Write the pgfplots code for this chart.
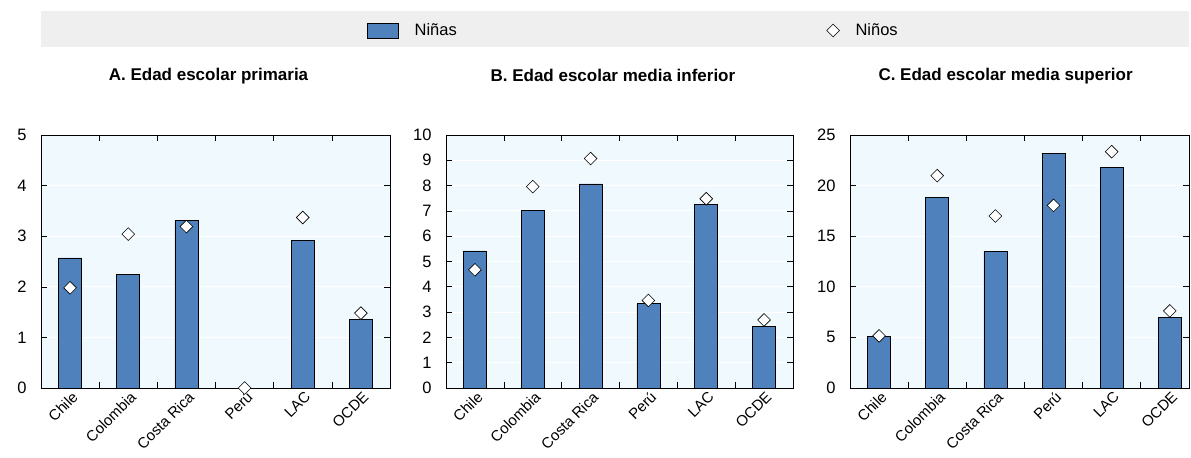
\documentclass[border=0pt]{standalone}
\usepackage{pgfplots}
\pgfplotsset{compat=1.18}
\usepackage{fontspec}
\setmainfont{Liberation Sans}
\newcommand{\lblfont}{\fontsize{16.5bp}{19bp}\selectfont}
\newcommand{\xlblfont}{\fontsize{15bp}{18bp}\selectfont}
\newcommand{\ttlfont}{\bfseries\fontsize{17bp}{20bp}\selectfont}
\definecolor{barblue}{HTML}{4F81BD}
\definecolor{panelbg}{HTML}{F0FAFE}
\definecolor{legbg}{HTML}{EFEFEF}

\pgfplotsset{
  panel/.style={
    scale only axis,
    anchor=south west,
    height=253bp,
    axis background/.style={fill=panelbg},
    axis line style={black, line width=0.8bp},
    ymin=0,
    xmin=-0.5,
    xtick={0,1,2,3,4,5},
    xticklabels={Chile,Colombia,Costa Rica,Perú,LAC,OCDE},
    major x tick style={draw=none},
    minor xtick={0.5,1.5,2.5,3.5,4.5},
    minor tick length=6bp,
    major tick length=6bp,
    tick align=inside,
    minor x tick style={black, line width=0.6bp},
    ytick style={black, line width=0.6bp},
    ymajorgrids,
    major grid style={white, line width=0.8bp},
    yticklabel style={font=\lblfont, xshift=-11bp},
    /pgf/number format/assume math mode=true,
    xticklabel style={font=\xlblfont, rotate=45, anchor=north east, inner sep=1bp, yshift=-1.5bp},
    title style={font=\ttlfont, anchor=center},
    clip=false,
  },
  girls/.style={ybar, bar width=23bp, fill=barblue, draw=black, line width=0.6bp},
  boys/.style={only marks, mark=square*, mark size=4.5bp,
    mark options={rotate=45, fill=white, draw=black, line width=0.6bp}},
}

\begin{document}
\begin{tikzpicture}
\useasboundingbox (0,0) rectangle (1191bp,458bp);
\fill[legbg] (41bp,411bp) rectangle (1189bp,447bp);

% A. primaria
\begin{axis}[panel, at={(41bp,70bp)}, width=349bp, xmax=5.5,
  ymax=5, ytick={0,1,2,3,4,5},
  title={A. Edad escolar primaria}, title style={at={(0.48,1.21)}},
  legend columns=2,
  legend style={at={(0.925,1.413)}, anchor=west, draw=none, fill=none,
    font=\lblfont,
    /tikz/every odd column/.append style={column sep=14bp},
    /tikz/every even column/.append style={column sep=368bp}},
  ]
\addplot[girls, legend image code/.code={\draw[fill=barblue,draw=black,line width=0.6bp] (0bp,-7.5bp) rectangle (31bp,7.5bp);}]
  coordinates {(0,2.57) (1,2.25) (2,3.31) (4,2.92) (5,1.36)};
\addlegendentry{Niñas}
\addplot[boys] coordinates {(0,1.98) (1,3.04) (2,3.19) (3,0) (4,3.37) (5,1.48)};
\addlegendentry{Niños}
\end{axis}

% B. media inferior
\begin{axis}[panel, at={(446bp,70bp)}, width=347bp, xmax=5.5,
  ymax=10, ytick={0,1,...,10},
  title={B. Edad escolar media inferior}, title style={at={(0.481,1.21)}},
  ]
\addplot[girls] coordinates {(0,5.42) (1,7.02) (2,8.07) (3,3.33) (4,7.27) (5,2.45)};
\addplot[boys] coordinates {(0,4.67) (1,7.96) (2,9.07) (3,3.46) (4,7.48) (5,2.69)};
\end{axis}

% C. media superior
\begin{axis}[panel, at={(850bp,70bp)}, width=339bp, xmax=5.33,
  ymax=25, ytick={0,5,...,25},
  title={C. Edad escolar media superior}, title style={at={(0.459,1.21)}},
  ]
\addplot[girls] coordinates {(0,5.08) (1,18.83) (2,13.52) (3,23.22) (4,21.77) (5,6.96)};
\addplot[boys] coordinates {(0,5.15) (1,20.98) (2,16.99) (3,18.04) (4,23.35) (5,7.62)};
\end{axis}
\end{tikzpicture}
\end{document}
